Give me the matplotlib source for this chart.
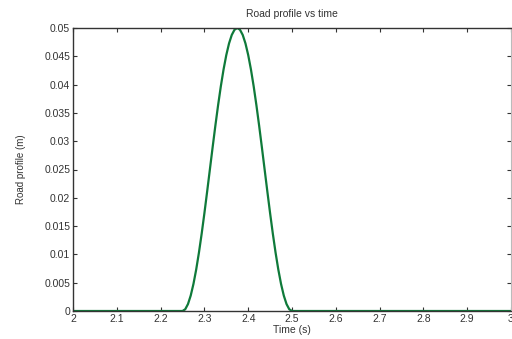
import matplotlib
matplotlib.use("Agg")
import matplotlib.pyplot as plt

plt.rcParams['font.family'] = ['Liberation Sans', 'DejaVu Sans']

time_s = [2.0, 2.25, 2.25625, 2.2625, 2.26875, 2.275, 2.28125, 2.2875, 2.29375, 2.3, 2.30625,
          2.3125, 2.31875, 2.325, 2.33125, 2.3375, 2.34375, 2.35, 2.35625, 2.3625, 2.36875,
          2.375, 2.38125, 2.3875, 2.39375, 2.4, 2.40625, 2.4125, 2.41875, 2.425, 2.43125,
          2.4375, 2.44375, 2.45, 2.45625, 2.4625, 2.46875, 2.475, 2.48125, 2.4875, 2.49375,
          2.5, 3.0]
profile_m = [0.0, 0.0, 0.000308, 0.001224, 0.002725, 0.004775, 0.007322, 0.010305, 0.01365, 0.017275, 0.021089,
             0.025, 0.028911, 0.032725, 0.03635, 0.039695, 0.042678, 0.045225, 0.047275, 0.048776, 0.049692,
             0.05, 0.049692, 0.048776, 0.047275, 0.045225, 0.042678, 0.039695, 0.03635, 0.032725, 0.028911,
             0.025, 0.021089, 0.017275, 0.01365, 0.010305, 0.007322, 0.004775, 0.002725, 0.001224, 0.000308,
             0.0, 0.0]
xticks = [2, 2.1, 2.2, 2.3, 2.4, 2.5, 2.6, 2.7, 2.8, 2.9, 3]
xticklabels = ['2', '2.1', '2.2', '2.3', '2.4', '2.5', '2.6', '2.7', '2.8', '2.9', '3']
yticks = [0, 0.005, 0.01, 0.015, 0.02, 0.025, 0.03, 0.035, 0.04, 0.045, 0.05]
yticklabels = ['0', '0.005', '0.01', '0.015', '0.02', '0.025', '0.03', '0.035', '0.04', '0.045', '0.05']

fig = plt.figure(figsize=(5.12, 3.39), dpi=100)
ax = fig.add_axes([73/512, 1-311/339, (511-73)/512, (311-28)/339])
ax.plot(time_s, profile_m, color='#0f7a3a', linewidth=1.6, solid_joinstyle='round')
ax.set_xlim(2, 3)
ax.set_ylim(0, 0.05)
ax.set_xticks(xticks)
ax.set_xticklabels(xticklabels)
ax.set_yticks(yticks)
ax.set_yticklabels(yticklabels)
ax.tick_params(direction='in', top=True, right=True, length=3, width=0.8,
               labelsize=7.5, colors='#333333', pad=2)
for side in ['left', 'bottom', 'top']:
    ax.spines[side].set_color('#333333')
    ax.spines[side].set_linewidth(1.0)
ax.spines['right'].set_color('#bbbbbb')
ax.set_xlabel('Time (s)', fontsize=7.5, color='#333333', labelpad=1)
ax.set_ylabel('Road profile (m)', fontsize=7, color='#333333', labelpad=13)
ax.set_title('Road profile vs time', fontsize=7.5, color='#333333', pad=8)
fig.savefig('out.png', dpi=100)
